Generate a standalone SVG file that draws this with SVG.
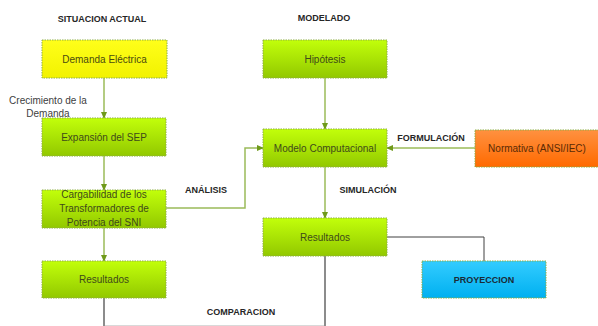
<svg xmlns="http://www.w3.org/2000/svg" width="598" height="326" viewBox="0 0 598 326">
<defs>
<linearGradient id="gGreen" x1="0" y1="0" x2="0" y2="1"><stop offset="0" stop-color="#c2ff0a"/><stop offset="1" stop-color="#92c800"/></linearGradient>
<linearGradient id="gYellow" x1="0" y1="0" x2="0" y2="1"><stop offset="0" stop-color="#ffff1a"/><stop offset="1" stop-color="#f2f200"/></linearGradient>
<linearGradient id="gOrange" x1="0" y1="0" x2="0" y2="1"><stop offset="0" stop-color="#ff9140"/><stop offset="1" stop-color="#ff6a00"/></linearGradient>
<linearGradient id="gBlue" x1="0" y1="0" x2="0" y2="1"><stop offset="0" stop-color="#33ccff"/><stop offset="1" stop-color="#00b0f0"/></linearGradient>
<marker id="arr" markerWidth="7" markerHeight="6" refX="6" refY="3" orient="auto" markerUnits="userSpaceOnUse"><path d="M0,0 L7,3 L0,6 Z" fill="#6f9a1a"/></marker>
</defs>
<style>
.box{stroke:#8fae45;stroke-width:1;stroke-dasharray:1.5 1}
.t{font-family:"Liberation Sans",Arial,sans-serif;font-size:10px;fill:#404a1a;text-anchor:middle}
.h{font-family:"Liberation Sans",Arial,sans-serif;font-size:9px;font-weight:bold;fill:#262626;text-anchor:middle}
.cg{fill:none;stroke:#9bbb59;stroke-width:1.5}
.cd{fill:none;stroke:#404040;stroke-width:1}
.cgr{fill:none;stroke:#8c8c8c;stroke-width:2}
</style>
<g id="labels">
<text class="h" x="102" y="22">SITUACION ACTUAL</text>
<text class="h" x="324" y="21">MODELADO</text>
<text class="t" x="48" y="104" style="fill:#404040">Crecimiento de la</text>
<text class="t" x="48" y="117" style="fill:#404040">Demanda</text>
<text class="h" x="206" y="193">ANÁLISIS</text>
<text class="h" x="431" y="141">FORMULACIÓN</text>
<text class="h" x="368" y="193">SIMULACIÓN</text>
<text class="h" x="241" y="315">COMPARACION</text>
</g>
<g id="connectors">
<line class="cg" x1="104" y1="78" x2="104" y2="118" marker-end="url(#arr)"/>
<line class="cg" x1="104" y1="156" x2="104" y2="190" marker-end="url(#arr)"/>
<line class="cg" x1="104" y1="228" x2="104" y2="261" marker-end="url(#arr)"/>
<polyline class="cg" points="166,208 245,208 245,148 263,148" marker-end="url(#arr)"/>
<line class="cg" x1="325" y1="78" x2="325" y2="129" marker-end="url(#arr)"/>
<line class="cg" x1="475" y1="148" x2="387" y2="148" marker-end="url(#arr)"/>
<line class="cg" x1="325" y1="167" x2="325" y2="218" marker-end="url(#arr)"/>
<polyline class="cd" points="387,237 484,237 484,261"/>
<line x1="104" y1="325.5" x2="325" y2="325.5" stroke="#d9d9d9" stroke-width="1"/>
<line class="cgr" x1="104" y1="298" x2="104" y2="326"/>
<line class="cgr" x1="325" y1="256" x2="325" y2="326"/>
</g>
<g id="demanda">
<rect class="box" x="42" y="40" width="125" height="38" fill="url(#gYellow)"/>
<text class="t" x="104.5" y="63" style="fill:#4a4a10">Demanda Eléctrica</text>
</g>
<g id="expansion">
<rect class="box" x="42" y="118" width="124" height="38" fill="url(#gGreen)"/>
<text class="t" x="104" y="141">Expansión del SEP</text>
</g>
<g id="cargabilidad">
<rect class="box" x="42" y="190" width="124" height="38" fill="url(#gGreen)"/>
<text class="t" x="104" y="197.5">Cargabilidad de los</text>
<text class="t" x="104" y="211.5">Transformadores de</text>
<text class="t" x="104" y="225.5">Potencia del SNI</text>
</g>
<g id="resultados1">
<rect class="box" x="42" y="261" width="124" height="37" fill="url(#gGreen)"/>
<text class="t" x="104" y="283">Resultados</text>
</g>
<g id="hipotesis">
<rect class="box" x="263" y="40" width="124" height="38" fill="url(#gGreen)"/>
<text class="t" x="325" y="62.5">Hipótesis</text>
</g>
<g id="modelo">
<rect class="box" x="263" y="129" width="124" height="38" fill="url(#gGreen)"/>
<text class="t" x="325" y="151.5">Modelo Computacional</text>
</g>
<g id="normativa">
<rect class="box" x="475" y="130" width="124" height="37" fill="url(#gOrange)"/>
<text class="t" x="537" y="152" style="fill:#5a2a05">Normativa (ANSI/IEC)</text>
</g>
<g id="resultados2">
<rect class="box" x="263" y="218" width="124" height="38" fill="url(#gGreen)"/>
<text class="t" x="325" y="240.5">Resultados</text>
</g>
<g id="proyeccion">
<rect class="box" x="422" y="261" width="124" height="37" fill="url(#gBlue)"/>
<text class="h" x="484" y="283" style="fill:#1a2a35">PROYECCION</text>
</g>
</svg>
